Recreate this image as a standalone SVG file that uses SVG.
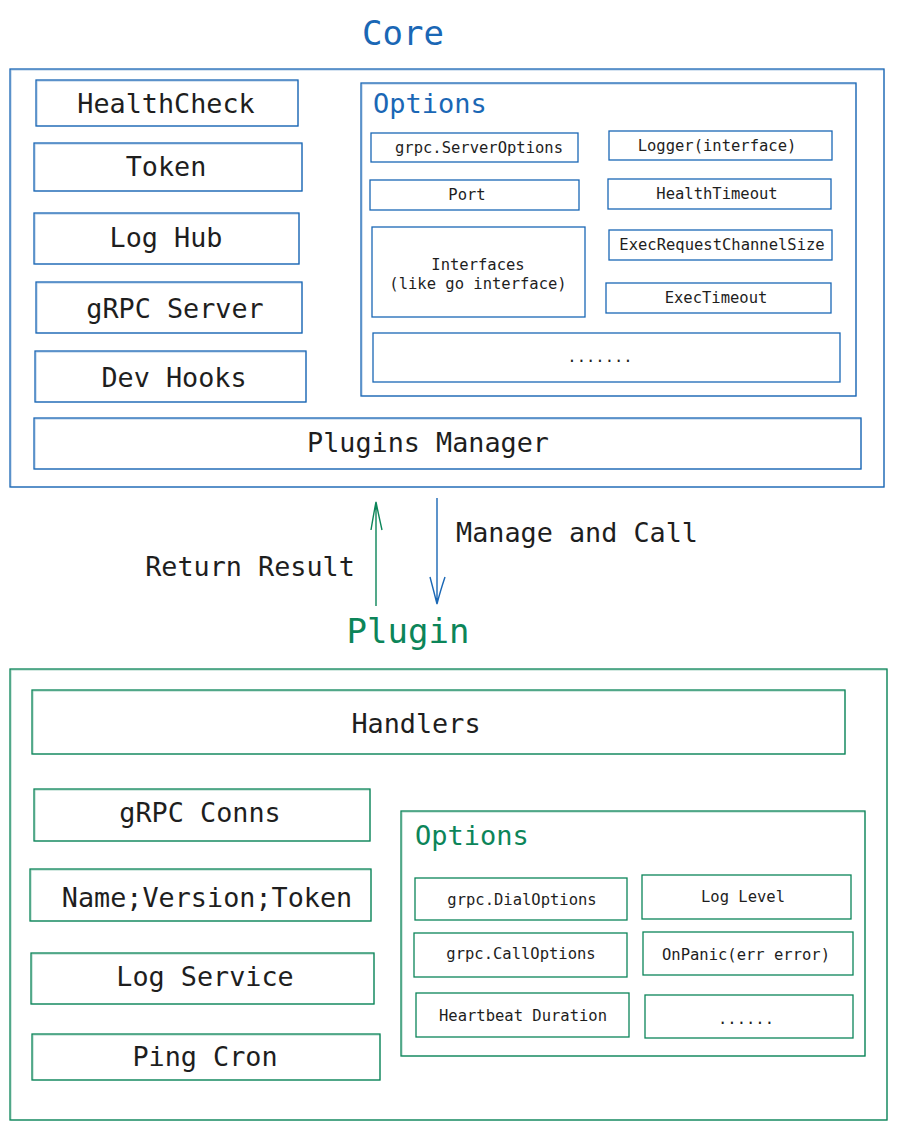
<svg xmlns="http://www.w3.org/2000/svg" width="897" height="1131" viewBox="0 0 897 1131">
<style>
text{font-family:"DejaVu Sans Mono","Liberation Mono",monospace;fill:#1e1e1e;text-anchor:middle}
.b{fill:none;stroke:#1a67b5;stroke-width:1.3}
.b2{fill:none;stroke:#1a67b5;stroke-width:0.8;opacity:0.45}
.g{fill:none;stroke:#0c8559;stroke-width:1.3}
.g2{fill:none;stroke:#0c8559;stroke-width:0.8;opacity:0.45}
.big{font-size:26.8px}
.sm{font-size:15.5px}
.title{font-size:34px;font-weight:normal}
.opt{font-size:27px;text-anchor:start}
</style>
<rect width="897" height="1131" fill="#ffffff"/>

<g id="core">
<text class="title" x="403" y="45" style="fill:#1a67b5">Core</text>
<rect class="b" x="10" y="69" width="874" height="418"/>
<rect class="b2" x="11" y="70" width="873" height="417"/>
</g>
<g id="healthcheck"><rect class="b" x="36" y="80" width="262" height="46"/><rect class="b2" x="37" y="81" width="261" height="45"/><text class="big" x="166" y="113">HealthCheck</text></g>
<g id="token"><rect class="b" x="34" y="143" width="268" height="48"/><rect class="b2" x="35" y="144" width="267" height="47"/><text class="big" x="166" y="176">Token</text></g>
<g id="loghub"><rect class="b" x="34" y="213" width="265" height="51"/><rect class="b2" x="35" y="214" width="264" height="50"/><text class="big" x="166" y="247">Log Hub</text></g>
<g id="grpcserver"><rect class="b" x="36" y="282" width="266" height="51"/><rect class="b2" x="37" y="283" width="265" height="50"/><text class="big" x="175" y="318">gRPC Server</text></g>
<g id="devhooks"><rect class="b" x="35" y="351" width="271" height="51"/><rect class="b2" x="36" y="352" width="270" height="50"/><text class="big" x="174" y="387">Dev Hooks</text></g>
<g id="pluginsmanager"><rect class="b" x="34" y="418" width="827" height="51"/><rect class="b2" x="35" y="419" width="826" height="50"/><text class="big" x="428" y="452">Plugins Manager</text></g>

<g id="core-options">
<rect class="b" x="361" y="83" width="495" height="313"/>
<rect class="b2" x="362" y="84" width="494" height="312"/>
<text class="opt" x="373" y="113" style="fill:#1a67b5">Options</text>
</g>
<g id="serveroptions"><rect class="b" x="371" y="133" width="207" height="29"/><text class="sm" x="479" y="153">grpc.ServerOptions</text></g>
<g id="logger"><rect class="b" x="609" y="131" width="223" height="29"/><text class="sm" x="717" y="151">Logger(interface)</text></g>
<g id="port"><rect class="b" x="370" y="180" width="209" height="30"/><text class="sm" x="467" y="200">Port</text></g>
<g id="healthtimeout"><rect class="b" x="608" y="179" width="223" height="30"/><text class="sm" x="717" y="199">HealthTimeout</text></g>
<g id="interfaces"><rect class="b" x="372" y="227" width="213" height="90"/><text class="sm" x="478" y="270">Interfaces</text><text class="sm" x="478" y="289">(like go interface)</text></g>
<g id="execreq"><rect class="b" x="609" y="230" width="223" height="30"/><text class="sm" x="722" y="250">ExecRequestChannelSize</text></g>
<g id="exectimeout"><rect class="b" x="606" y="283" width="225" height="30"/><text class="sm" x="716" y="303">ExecTimeout</text></g>
<g id="core-more"><rect class="b" x="373" y="333" width="467" height="49"/><text class="sm" x="600" y="362">.......</text></g>

<g id="connectors">
<path d="M376 606 L376 502 M371 530 Q374 512 376 502 Q378 512 382 530" fill="none" stroke="#0c8559" stroke-width="1.4"/>
<path d="M437 498 L437 604 M430 577 Q434 592 437 604 Q440 592 445 577" fill="none" stroke="#1a67b5" stroke-width="1.4"/>
<text class="big" x="250" y="576">Return Result</text>
<text class="big" x="577" y="542">Manage and Call</text>
</g>

<g id="plugin">
<text class="title" x="408" y="643" style="fill:#0c8559">Plugin</text>
<rect class="g" x="10" y="669" width="877" height="451"/>
<rect class="g2" x="11" y="670" width="876" height="450"/>
</g>
<g id="handlers"><rect class="g" x="32" y="690" width="813" height="64"/><rect class="g2" x="33" y="691" width="812" height="63"/><text class="big" x="416" y="733">Handlers</text></g>
<g id="grpcconns"><rect class="g" x="34" y="789" width="336" height="52"/><rect class="g2" x="35" y="790" width="335" height="51"/><text class="big" x="200" y="822">gRPC Conns</text></g>
<g id="nvt"><rect class="g" x="30" y="869" width="341" height="52"/><rect class="g2" x="31" y="870" width="340" height="51"/><text class="big" x="207" y="907">Name;Version;Token</text></g>
<g id="logservice"><rect class="g" x="31" y="953" width="343" height="51"/><rect class="g2" x="32" y="954" width="342" height="50"/><text class="big" x="205" y="986">Log Service</text></g>
<g id="pingcron"><rect class="g" x="32" y="1034" width="348" height="46"/><rect class="g2" x="33" y="1035" width="347" height="45"/><text class="big" x="205" y="1066">Ping Cron</text></g>

<g id="plugin-options">
<rect class="g" x="401" y="811" width="464" height="245"/>
<rect class="g2" x="402" y="812" width="463" height="244"/>
<text class="opt" x="415" y="845" style="fill:#0c8559">Options</text>
</g>
<g id="dialoptions"><rect class="g" x="415" y="878" width="212" height="42"/><text class="sm" x="522" y="905">grpc.DialOptions</text></g>
<g id="loglevel"><rect class="g" x="642" y="875" width="209" height="44"/><text class="sm" x="743" y="902">Log Level</text></g>
<g id="calloptions"><rect class="g" x="414" y="933" width="213" height="44"/><text class="sm" x="521" y="959">grpc.CallOptions</text></g>
<g id="onpanic"><rect class="g" x="643" y="932" width="210" height="43"/><text class="sm" x="746" y="960">OnPanic(err error)</text></g>
<g id="heartbeat"><rect class="g" x="416" y="993" width="213" height="44"/><text class="sm" x="523" y="1021">Heartbeat Duration</text></g>
<g id="plugin-more"><rect class="g" x="645" y="995" width="208" height="43"/><text class="sm" x="746" y="1024">......</text></g>
</svg>
